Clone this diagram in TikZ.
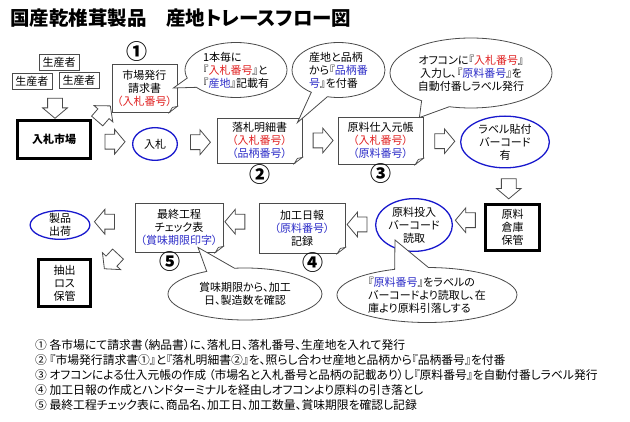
\documentclass[tikz,border=0pt]{standalone}
\usepackage{fontspec}
\setmainfont{Noto Sans CJK JP}[RawFeature=+palt]
\usetikzlibrary{positioning,calc,shapes.geometric,shapes.arrows,shapes.callouts}

\definecolor{nored}{RGB}{225,35,35}
\definecolor{noblue}{RGB}{45,45,200}
\definecolor{ovalblue}{RGB}{25,25,205}
\definecolor{edgegray}{RGB}{75,75,75}
\newcommand{\rno}[1]{\textcolor{nored}{#1}}
\newcommand{\bno}[1]{\textcolor{noblue}{#1}}
% folded corner at the south east of a document box
\newcommand{\foldcorner}[1]{%
  \fill[white] ($(#1.south east)+(-8pt,-1pt)$) -- ($(#1.south east)+(1pt,-1pt)$) -- ($(#1.south east)+(1pt,7pt)$) -- cycle;
  \draw[edgegray,line width=0.7pt] ($(#1.south east)+(-8pt,0pt)$) -- ($(#1.south east)+(-5pt,5pt)$) -- ($(#1.south east)+(0pt,6pt)$) -- cycle;}

\begin{document}
\begin{tikzpicture}[x=1pt,y=-1pt,
  txt/.style={font=\fontsize{11}{13}\selectfont, align=center},
  person/.style={txt, draw=edgegray, line width=0.7pt, minimum width=40pt, minimum height=16pt, inner sep=1pt},
  docbox/.style={txt, draw=edgegray, line width=0.8pt, fill=white, inner sep=1pt},
  heavybox/.style={txt, draw=black, line width=2.6pt, inner sep=1pt},
  oval/.style={txt, ellipse, draw=ovalblue, line width=1.3pt, inner sep=-3pt},
  blockarrow/.style={single arrow, draw=edgegray, line width=0.8pt, fill=white, minimum height=20pt, inner xsep=0pt, inner ysep=7pt, single arrow head extend=5pt, single arrow head indent=0pt, single arrow tip angle=100},
  bubble/.style={txt, ellipse callout, draw=edgegray, line width=0.8pt, fill=white, callout pointer arc=22, inner sep=-4pt},
  stepno/.style={font=\fontsize{21}{21}\selectfont\bfseries, inner sep=0pt}]
\useasboundingbox (0,0) rectangle (630,422);
\node[font=\fontsize{19.5}{19.5}\selectfont\bfseries, anchor=west, inner sep=0pt] (title) at (10,18) {国産乾椎茸製品　産地トレースフロー図};

% producers and market
\node[person] (prod1) at (59,62) {生産者};
\node[person] (prod2) at (32,81) {生産者};
\node[person] (prod3) at (79,80) {生産者};
\node[heavybox, minimum width=73pt, minimum height=38pt, font=\fontsize{11}{13}\selectfont\bfseries] (market) at (54,139.5) {入札市場};
\node[blockarrow, rotate=-90] (a1) at ($(market.north)+(1pt,14pt)$) {};

% top row
\node[docbox, minimum width=65pt, minimum height=48pt] (invoice) at (144.5,88) {市場発行\\請求書\\\rno{（入札番号）}};
\foldcorner{invoice}
\node[stepno, above=2pt of invoice.north, xshift=-7.5pt] (n1) {①};
\node[blockarrow, rotate=49] (a2) at ($(market.north east)!.5!(invoice.south west)$) {};
\node[oval, minimum width=44.7pt, minimum height=32.7pt] (bid) at (155,144) {入札};
\node[blockarrow] (a3) at ($(market.east)!.5!(bid.west)$) {};
\node[docbox, minimum width=85pt, minimum height=45pt] (detail) at (259.5,140.5) {落札明細書\\\rno{（入札番号）}\\\bno{（品柄番号）}};
\foldcorner{detail}
\node[stepno, below=1pt of detail] (n2) {②};
\node[blockarrow] (a4) at ($(bid.east)!.5!(detail.west)$) {};
\node[docbox, minimum width=85pt, minimum height=47pt] (ledger) at (380.5,140.5) {原料仕入元帳\\\rno{（入札番号）}\\\bno{（原料番号）}};
\foldcorner{ledger}
\node[stepno, below=-1pt of ledger] (n3) {③};
\node[blockarrow] (a5) at ($(detail.east)!.5!(ledger.west)$) {};
\node[oval, minimum width=88.7pt, minimum height=51.7pt] (tag) at (505,142) {ラベル貼付\\バーコード\\有};
\node[blockarrow] (a6) at ($(ledger.east)!.5!(tag.west)$) {};
\node[heavybox, minimum width=54.5pt, minimum height=46.5pt] (store) at (512.5,227.5) {原料\\倉庫\\保管};
\node[blockarrow, rotate=-90] (a7) at ($(tag.south)!.5!(store.north)$) {};

% bottom row
\node[oval, minimum width=76.7pt, minimum height=52.7pt] (scan) at (414,225) {原料投入\\バーコード\\読取};
\node[blockarrow, rotate=180] (a8) at ($(store.west)!.5!(scan.east)+(0pt,6pt)$) {};
\node[docbox, minimum width=86pt, minimum height=50pt] (daily) at (302,228) {加工日報\\\bno{（原料番号）}\\記録};
\foldcorner{daily}
\node[stepno, below=-1pt of daily, xshift=11pt] (n4) {④};
\node[blockarrow, rotate=180] (a9) at ($(scan.west)!.5!(daily.east)+(0pt,2pt)$) {};
\node[docbox, minimum width=88pt, minimum height=49pt] (check) at (179,227.5) {最終工程\\チェック表\\\bno{（賞味期限印字）}};
\foldcorner{check}
\node[stepno, below=-1pt of check, xshift=-9pt] (n5) {⑤};
\node[blockarrow, rotate=180] (a10) at ($(daily.west)!.5!(check.east)+(-3pt,6pt)$) {};
\node[oval, minimum width=59.7pt, minimum height=28.7pt] (ship) at (60,225) {製品\\出荷};
\node[blockarrow, rotate=180] (a11) at ($(check.west)!.5!(ship.east)+(-5pt,4.5pt)$) {};
\node[heavybox, minimum width=52.5pt, minimum height=47.5pt] (loss) at (64.5,283) {抽出\\ロス\\保管};
\node[blockarrow, rotate=-133] (a12) at ($(check.south west)!.5!(loss.north east)+(0pt,-4pt)$) {};

% speech bubbles
\node[bubble, align=left, minimum width=102pt, minimum height=55pt, callout absolute pointer={([xshift=-4pt]invoice.east)}] (note1) at (236,70) {1本毎に\\『\rno{入札番号}』と\\『\bno{産地}』記載有};
\node[bubble, align=left, minimum width=93pt, minimum height=55pt, callout absolute pointer={([xshift=-5pt,yshift=-5pt]detail.north east)}] (note2) at (338.5,70) {産地と品柄\\から『\bno{品柄番}\\\bno{号}』を付番};
\node[bubble, minimum width=162pt, minimum height=70pt, callout absolute pointer={([xshift=-4pt,yshift=-1pt]ledger.north east)}] (note3) at (471,73) {オフコンに『\rno{入札番号}』\\入力し、『\bno{原料番号}』を\\自動付番しラベル発行};
\node[bubble, minimum width=154pt, minimum height=52pt, callout absolute pointer={([xshift=19pt,yshift=5pt]check.south)}] (note4) at (245,294) {賞味期限から、加工\\日、製造数を確認};
\node[bubble, align=left, minimum width=180pt, minimum height=55pt, callout absolute pointer={([xshift=-19pt,yshift=-15pt]scan.center)}] (note5) at (427,295) {『\bno{原料番号}』をラベルの\\バーコードより読取し、在\\庫より原料引落しする};

% footnotes
\node[font=\fontsize{11.8}{15}\selectfont, align=left, anchor=west, inner sep=0pt] (notes) at (35,375) {① 各市場にて請求書（納品書）に、落札日、落札番号、生産地を入れて発行\\
② 『市場発行請求書①』と『落札明細書②』を、照らし合わせ産地と品柄から『品柄番号』を付番\\
③ オフコンによる仕入元帳の作成 （市場名と入札番号と品柄の記載あり）し『原料番号』を自動付番しラベル発行\\
④ 加工日報の作成とハンドターミナルを経由しオフコンより原料の引き落とし\\
⑤ 最終工程チェック表に、商品名、加工日、加工数量、賞味期限を確認し記録};
\end{tikzpicture}
\end{document}
